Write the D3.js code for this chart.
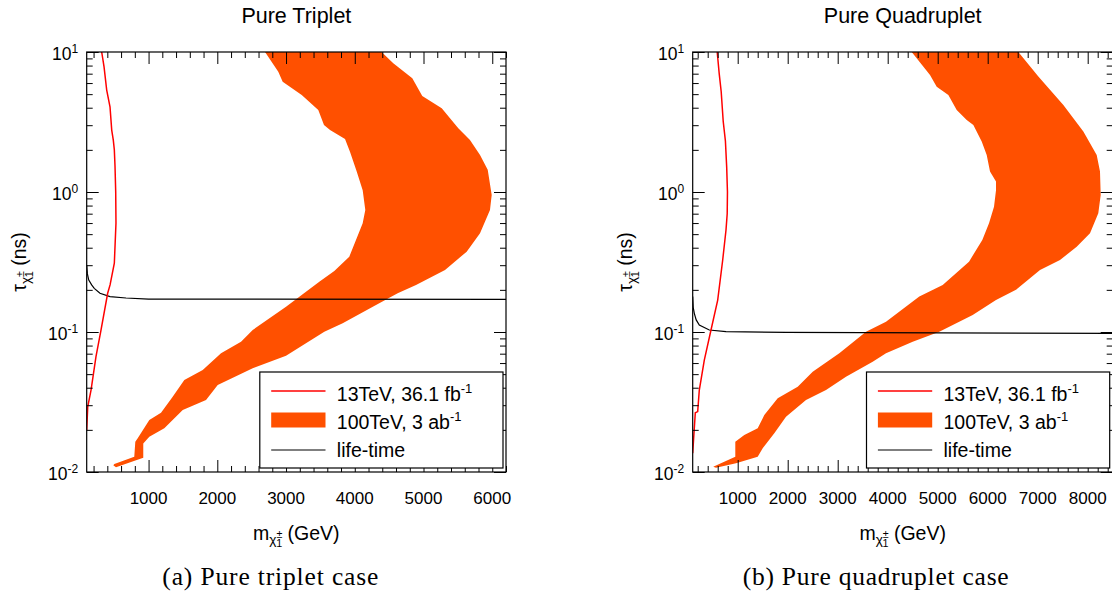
<!DOCTYPE html>
<html><head><meta charset="utf-8">
<script src="https://cdn.jsdelivr.net/npm/d3@7"></script>
<style>
body{margin:0;background:#fff}
svg{display:block}
text{font-family:"Liberation Sans",Arial,Helvetica,sans-serif;fill:#000}
</style>
</head><body>
<svg id="c" width="1112" height="592"></svg>
<script>
// ---------------- data ----------------
const panelTitles = ["Pure Triplet", "Pure Quadruplet"];
const captions = ["(a) Pure triplet case", "(b) Pure quadruplet case"];
const massDomains = [[100, 6200], [100, 8500]];
const tauDomain = [0.01, 10];
const massTickLabels = [
  [1000, 2000, 3000, 4000, 5000, 6000],
  [1000, 2000, 3000, 4000, 5000, 6000, 7000, 8000]
];
const tauTicks = [0.01, 0.1, 1, 10];
const tauExponents = ["-2", "-1", "0", "1"];
const legendLabels = [["13TeV, 36.1 fb", "-1"], ["100TeV, 3 ab", "-1"], ["life-time", ""]];

// 100 TeV band, pure triplet: outer edge (top -> tip), inner edge (tip -> top); [mass GeV, tau ns]
const tripletOuter = [[4390,10],[4560,8.31],[4837,6.49],[4982,4.85],[5265,3.96],[5506,2.85],[5676,2.35],[5822,1.84],[5934,1.44],[5992,0.95],[5967,0.743],[5822,0.507],[5628,0.375],[5313,0.277],[4891,0.217],[4624,0.189],[4309,0.156],[3824,0.1154],[3557,0.1005],[3000,0.0678],[2515,0.0551],[2006,0.0418],[1836,0.0327],[1497,0.0277],[1229,0.0205],[1011,0.01787],[923,0.0160],[923,0.01265],[526,0.0108],[487,0.01117]];
const tripletInner = [[502,0.0114],[792,0.01286],[807,0.01644],[842,0.01741],[1011,0.0235],[1181,0.02655],[1351,0.0345],[1520,0.0454],[1788,0.0535],[2054,0.0705],[2345,0.0853],[2515,0.1033],[3000,0.1517],[3484,0.2286],[3702,0.273],[3920,0.345],[4115,0.597],[4153,0.743],[4115,1.03],[4028,1.40],[3930,1.94],[3858,2.39],[3640,2.77],[3552,3.01],[3469,3.85],[3228,4.93],[2951,6.14],[2887,7.23],[2694,10]];
const triplet13TeV = [[318,10],[352,7.85],[391,5.35],[439,4.06],[464,2.77],[487,2.35],[502,2.0],[512,1.52],[522,1.0],[526,0.6],[502,0.31],[440,0.217],[405,0.189],[308,0.1033],[235,0.0667],[163,0.0385],[115,0.0292],[100,0.02]];
const tripletLifetime = [[100,0.30],[110,0.26],[130,0.235],[172,0.217],[210,0.205],[293,0.189],[439,0.179],[672,0.175],[1000,0.172],[6200,0.171]];

// pure quadruplet
const quadOuter = [[6613,10],[7013,6.67],[7513,4.18],[7913,2.70],[8180,1.84],[8246,1.40],[8260,0.95],[8212,0.705],[8046,0.507],[7780,0.406],[7446,0.327],[7046,0.277],[6566,0.2],[6166,0.169],[5700,0.132],[5032,0.1005],[4500,0.0853],[3966,0.0705],[3700,0.0614],[3166,0.048],[2766,0.0385],[2366,0.0327],[1966,0.0248],[1732,0.0189],[1500,0.01476],[1400,0.01286],[966,0.01153],[566,0.01074],[512,0.0109]];
const quadInner = [[532,0.011],[952,0.01286],[952,0.01644],[1132,0.01837],[1400,0.0205],[1532,0.0255],[1800,0.0336],[2200,0.0406],[2500,0.052],[3032,0.0705],[3566,0.1005],[3966,0.1186],[4632,0.179],[5100,0.217],[5626,0.318],[5892,0.454],[6026,0.597],[6126,0.785],[6166,1.03],[6166,1.19],[6046,1.40],[5980,1.84],[5880,2.29],[5713,3.01],[5580,3.27],[5380,3.85],[5213,4.93],[4980,5.65],[4846,6.85],[4480,10]];
const quad13TeV = [[590,10],[630,7],[670,5.2],[710,3.2],[754,2.32],[780,1.5],[795,1.0],[790,0.7],[766,0.535],[700,0.327],[600,0.169],[466,0.1033],[332,0.063],[232,0.0385],[200,0.027],[152,0.0265],[100,0.0136]];
const quadLifetime = [[100,0.179],[110,0.15],[132,0.136],[170,0.122],[232,0.112],[432,0.1033],[766,0.1005],[1966,0.0995],[8500,0.0978]];

// ---------------- drawing ----------------
const ORANGE = "#ff5000", RED = "#ff0000";
const svg = d3.select("#c");
const plotTop = 52, plotBottom = 472;

const panels = [
  {left: 86.7, right: 506, captionShift: -26, captionWidth: 216, outer: tripletOuter, inner: tripletInner, red: triplet13TeV, black: tripletLifetime},
  {left: 692.7, right: 1112.7, captionShift: -27, captionWidth: 266, outer: quadOuter, inner: quadInner, red: quad13TeV, black: quadLifetime}
];

function chiSub(text, mainSize) {
  const s = mainSize;
  text.append("tspan").attr("font-size", s * 0.7).attr("dy", 4).text("χ");
  text.append("tspan").attr("font-size", s * 0.55).attr("dy", -6).text("±");
  text.append("tspan").attr("font-size", s * 0.55).attr("dx", -s * 0.55 * 0.58).attr("dy", 9).text("1");
}

panels.forEach((p, i) => {
  const g = svg.append("g");
  const x = d3.scaleLinear().domain(massDomains[i]).range([p.left, p.right]);
  const y = d3.scaleLog().domain(tauDomain).range([plotBottom, plotTop]);
  const cx = (p.left + p.right) / 2;

  const clipId = "clip" + i;
  svg.append("clipPath").attr("id", clipId).append("rect")
    .attr("x", p.left).attr("y", plotTop).attr("width", p.right - p.left).attr("height", plotBottom - plotTop);

  const plot = g.append("g").attr("clip-path", `url(#${clipId})`);
  const line = d3.line().x(d => x(d[0])).y(d => y(d[1]));

  plot.append("path").attr("d", line(p.outer.concat(p.inner)) + "Z")
    .attr("fill", ORANGE).attr("stroke", "none");
  plot.append("path").attr("d", line(p.black)).attr("fill", "none")
    .attr("stroke", "#000").attr("stroke-width", 1.2);
  plot.append("path").attr("d", line(p.red)).attr("fill", "none")
    .attr("stroke", RED).attr("stroke-width", 1.5);

  const [m0, m1] = massDomains[i];
  const majorX = d3.range(1000, m1 + 1, 1000).filter(v => v >= m0 && v <= m1);
  const minorX = d3.range(200, m1 + 1, 200).filter(v => v % 1000 !== 0 && v >= m0 && v <= m1);
  const majorY = tauTicks;
  const minorY = [];
  [0.01, 0.1, 1].forEach(d => { for (let k = 2; k <= 9; k++) minorY.push(d * k); });

  const axes = g.append("g");
  function addAxis(axisFn, scale, vals, size, tr) {
    const a = axes.append("g").attr("transform", tr)
      .call(axisFn(scale).tickValues(vals).tickSize(size).tickFormat(""));
    a.select(".domain").remove();
    a.selectAll("line").attr("stroke", "#000").attr("stroke-width", 1);
  }
  addAxis(d3.axisBottom, x, minorX, -6, `translate(0,${plotBottom})`);
  addAxis(d3.axisBottom, x, majorX, -12, `translate(0,${plotBottom})`);
  addAxis(d3.axisTop, x, minorX, -6, `translate(0,${plotTop})`);
  addAxis(d3.axisTop, x, majorX, -12, `translate(0,${plotTop})`);
  addAxis(d3.axisLeft, y, minorY, -6, `translate(${p.left},0)`);
  addAxis(d3.axisLeft, y, majorY, -12, `translate(${p.left},0)`);
  addAxis(d3.axisRight, y, minorY, -6, `translate(${p.right},0)`);
  addAxis(d3.axisRight, y, majorY, -12, `translate(${p.right},0)`);

  g.append("rect").attr("x", p.left).attr("y", plotTop)
    .attr("width", p.right - p.left).attr("height", plotBottom - plotTop)
    .attr("fill", "none").attr("stroke", "#000").attr("stroke-width", 1.2);

  g.selectAll(".xl").data(massTickLabels[i]).enter().append("text")
    .attr("x", d => x(d)).attr("y", 504).attr("text-anchor", "middle")
    .attr("font-size", 17).text(d => d);

  tauTicks.forEach((t, k) => {
    const tx = g.append("text").attr("x", p.left - 8.5).attr("y", y(t) + 7.5)
      .attr("text-anchor", "end").attr("font-size", 17.5);
    tx.append("tspan").text("10");
    tx.append("tspan").attr("font-size", 12).attr("dy", -7).text(tauExponents[k]);
  });

  g.append("text").attr("x", cx).attr("y", 23).attr("text-anchor", "middle")
    .attr("font-size", 21.5).text(panelTitles[i]);

  const xl = g.append("text").attr("x", cx).attr("y", 539.5).attr("text-anchor", "middle").attr("font-size", 19.5);
  xl.append("tspan").text("m");
  chiSub(xl, 19.5);
  xl.append("tspan").attr("font-size", 19.5).attr("dy", -7).text(" (GeV)");

  const yl = g.append("text").attr("transform", `translate(${p.left - 61.2},${(plotTop + plotBottom) / 2}) rotate(-90)`)
    .attr("text-anchor", "middle").attr("font-size", 19.5);
  yl.append("tspan").text("τ");
  chiSub(yl, 19.5);
  yl.append("tspan").attr("font-size", 19.5).attr("dy", -7).text(" (ns)");

  const lx = p.right - 246.2, ly = 372, lw = 243.2, lh = 96;
  const lg = g.append("g");
  lg.append("rect").attr("x", lx).attr("y", ly).attr("width", lw).attr("height", lh)
    .attr("fill", "#fff").attr("stroke", "#000").attr("stroke-width", 1.2);
  const rowY = [391, 420, 450];
  const baseY = [400.7, 428.5, 457];
  lg.append("line").attr("x1", lx + 11.4).attr("x2", lx + 65.7).attr("y1", rowY[0]).attr("y2", rowY[0])
    .attr("stroke", RED).attr("stroke-width", 1.5);
  lg.append("rect").attr("x", lx + 11.4).attr("y", rowY[1] - 7.5).attr("width", 54.3).attr("height", 15)
    .attr("fill", ORANGE);
  lg.append("line").attr("x1", lx + 11.4).attr("x2", lx + 65.7).attr("y1", rowY[2]).attr("y2", rowY[2])
    .attr("stroke", "#000").attr("stroke-width", 1.2);
  legendLabels.forEach((lab, k) => {
    const t = lg.append("text").attr("x", lx + 77).attr("y", baseY[k]).attr("font-size", 19.5);
    t.append("tspan").text(lab[0]);
    if (lab[1]) t.append("tspan").attr("font-size", 13).attr("dy", -8).text(lab[1]);
  });

  svg.append("text").attr("x", cx + p.captionShift).attr("y", 585).attr("text-anchor", "middle")
    .style("font-family", "'Liberation Serif','Times New Roman',serif")
    .attr("font-size", 25.5).attr("textLength", p.captionWidth).attr("lengthAdjust", "spacing")
    .text(captions[i]);
});
</script>
</body></html>
